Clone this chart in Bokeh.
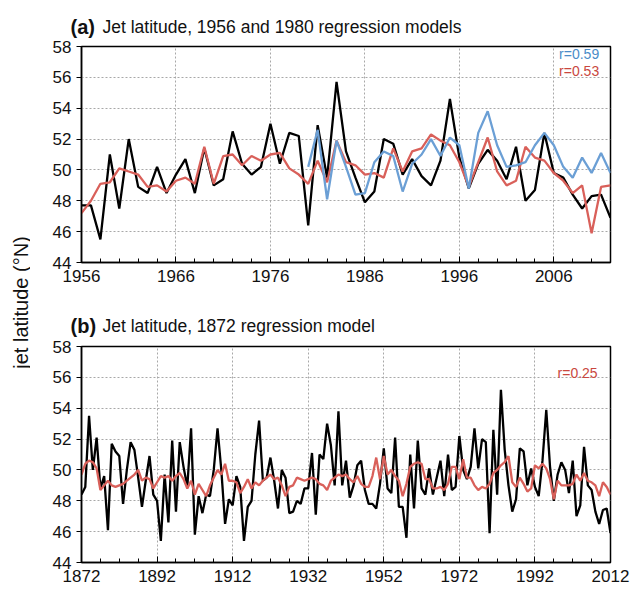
import math
from bokeh.plotting import figure
from bokeh.models import Range1d, FixedTicker, Label
from bokeh.core.properties import value
from bokeh.layouts import row, column
from bokeh.embed import file_html
from bokeh.resources import INLINE

# ---------------- data ----------------
years_a = list(range(1956, 2013))
obs_a = [47.7, 47.7, 45.5, 51.0, 47.5, 52.0, 48.9, 48.5, 50.2, 48.5,
         49.7, 50.7, 48.5, 51.4, 49.0, 49.4, 52.5, 50.4, 49.7, 50.2,
         53.0, 50.4, 52.4, 52.2, 46.4, 52.9, 49.5, 55.7, 51.2, 49.5,
         47.9, 48.6, 52.0, 51.7, 49.7, 50.7, 49.6, 49.0, 50.6, 54.6,
         50.8, 48.8, 50.4, 51.3, 50.6, 49.4, 51.5, 48.0, 48.7, 52.4,
         49.8, 49.5, 48.4, 47.5, 48.3, 48.4, 46.9]
model1956_a = [47.2, 48.0, 49.1, 49.2, 50.1, 49.9, 49.7, 48.9, 49.0, 48.6,
               49.3, 49.5, 49.1, 51.5, 49.1, 50.9, 51.0, 50.3, 50.9, 50.6,
               51.0, 51.1, 50.1, 49.7, 49.1, 50.6, 49.2, 51.9, 50.5, 50.3,
               49.7, 49.8, 49.5, 51.4, 49.9, 51.2, 51.4, 52.3, 51.9, 51.6,
               50.5, 48.9, 50.5, 52.1, 49.9, 49.0, 49.3, 51.5, 50.8, 50.6,
               49.8, 49.3, 48.5, 49.0, 45.9, 48.9, 49.0]
years_1980 = list(range(1980, 2013))
model1980_a = [50.2, 52.6, 48.1, 51.9, 50.2, 48.4, 48.5, 50.5, 51.2, 50.9,
               48.6, 50.4, 51.0, 52.0, 50.9, 52.1, 51.6, 48.8, 52.4, 53.8,
               51.6, 50.2, 50.3, 50.5, 51.6, 52.4, 51.6, 50.2, 49.5, 50.8,
               49.8, 51.1, 49.8]

years_b = list(range(1872, 2013))
obs_b = [48.4, 48.9, 53.5, 50.0, 52.1, 48.8, 49.6, 46.1, 51.7, 51.2,
         50.9, 47.8, 50.0, 51.8, 51.3, 49.5, 47.6, 49.3, 50.9, 48.4,
         48.0, 45.4, 49.7, 46.6, 51.9, 47.3, 51.8, 50.2, 48.9, 52.7,
         45.8, 48.3, 47.2, 48.4, 48.3, 50.0, 52.7, 50.0, 46.5, 48.1,
         47.7, 49.6, 48.9, 45.4, 47.6, 48.0, 51.0, 53.2, 49.3, 49.5,
         50.8, 49.3, 47.5, 50.0, 49.5, 47.2, 47.3, 48.0, 47.8, 48.8,
         48.8, 51.1, 47.1, 51.0, 50.7, 53.0, 51.6, 49.0, 53.8, 49.0,
         50.6, 48.2, 49.0, 50.3, 50.6, 48.7, 47.8, 47.8, 47.5, 49.1,
         51.4, 48.8, 48.5, 52.1, 47.6, 47.6, 45.6, 51.0, 47.5, 51.9,
         48.8, 48.4, 50.1, 48.4, 49.5, 50.6, 48.3, 51.0, 48.7, 48.9,
         52.2, 50.0, 49.4, 50.2, 52.7, 50.1, 52.0, 51.8, 45.9, 52.6,
         48.4, 55.2, 51.3, 49.0, 47.3, 48.1, 51.4, 51.2, 49.0, 50.1,
         48.9, 48.3, 50.6, 53.9, 50.2, 48.0, 49.7, 50.5, 50.0, 48.5,
         50.6, 47.0, 47.7, 51.5, 49.0, 48.7, 47.3, 46.5, 47.4, 47.5, 45.9]
model1872_b = [49.7, 50.4, 50.6, 50.5, 50.1, 48.7, 49.0, 49.3, 49.0, 48.9,
               49.0, 49.1, 49.3, 49.5, 49.7, 50.0, 49.3, 49.5, 49.4, 48.8,
               49.2, 49.6, 49.5, 49.6, 49.3, 49.6, 49.8, 49.4, 48.8, 49.3,
               48.4, 49.1, 48.7, 48.3, 49.0, 49.5, 50.0, 49.7, 50.4, 49.3,
               49.3, 49.2, 48.5, 48.9, 49.4, 48.8, 49.2, 49.0, 49.3, 49.5,
               49.7, 49.4, 49.5, 49.0, 48.3, 48.9, 49.0, 49.5, 49.4, 49.3,
               49.4, 49.5, 49.4, 49.1, 49.0, 48.7, 49.3, 49.5, 49.7, 49.6,
               49.7, 49.4, 49.2, 49.6, 49.1, 48.9, 48.9, 49.6, 50.8, 49.4,
               50.9, 49.7, 50.0, 49.6, 49.3, 48.3, 49.1, 50.2, 50.4, 50.5,
               50.4, 49.4, 49.4, 48.8, 48.8, 48.9, 48.7, 49.1, 50.2, 50.2,
               49.4, 50.7, 49.5, 49.5, 49.0, 48.7, 48.9, 48.8, 49.1, 49.8,
               50.0, 50.3, 50.5, 50.9, 49.2, 48.9, 49.5, 49.1, 48.6, 48.8,
               50.3, 50.1, 50.4, 50.1, 49.4, 48.1, 49.3, 49.0, 49.0, 49.0,
               49.1, 49.7, 49.3, 49.8, 49.3, 49.2, 49.0, 48.3, 49.2, 48.9, 48.4]

yticks = [44, 46, 48, 50, 52, 54, 56, 58]
xticks_a = [1956, 1966, 1976, 1986, 1996, 2006]
xminor_a = list(range(1956, 2013, 2))
xticks_b = [1872, 1892, 1912, 1932, 1952, 1972, 1992, 2012]
xminor_b = list(range(1872, 2013, 5))

title_tags = ["(a)", "(b)"]
title_texts = ["Jet latitude, 1956 and 1980 regression models",
               "Jet latitude, 1872 regression model"]

FONT = "Liberation Sans"
BLACK = "#000000"
RED = "#d9605a"
BLUE = "#6b9fd5"
RED_TXT = "#c9473e"
BLUE_TXT = "#4a8cc8"
W = 602


def no_align(p):
    try:
        p.frame_align = False
    except Exception:
        pass


def style(p, xticks, xminor):
    p.xaxis.ticker = FixedTicker(ticks=xticks, minor_ticks=xminor)
    p.yaxis.ticker = FixedTicker(ticks=yticks, minor_ticks=[])
    for ax in (p.xaxis[0], p.yaxis[0]):
        ax.axis_line_color = BLACK
        ax.axis_line_width = 1.5
        ax.major_tick_line_color = BLACK
        ax.minor_tick_line_color = BLACK
        ax.major_label_text_font = FONT
        ax.major_label_text_font_size = "17px"
        ax.major_label_text_color = "#111111"
    p.xaxis.major_tick_in = 6
    p.xaxis.major_tick_out = 0
    p.xaxis.minor_tick_in = 4
    p.xaxis.minor_tick_out = 0
    p.xaxis.major_label_standoff = 7
    p.yaxis.major_tick_in = 0
    p.yaxis.major_tick_out = 5
    p.yaxis.minor_tick_in = 0
    p.yaxis.minor_tick_out = 0
    p.yaxis.major_label_standoff = 5
    p.grid.grid_line_color = "#a8a8a8"
    p.grid.grid_line_dash = "2 2"
    p.grid.grid_line_width = 1
    p.outline_line_color = BLACK
    p.outline_line_width = 1.5
    p.outline_line_alpha = 1.0
    p.background_fill_color = "white"
    p.border_fill_color = "white"


def title_fig(tag, text, height, baseline_from_bottom):
    t = figure(width=W, height=height, output_backend="svg",
               toolbar_location=None, x_range=Range1d(0, W),
               y_range=Range1d(0, height), x_axis_location=None,
               y_axis_location=None, min_border_left=0, min_border_right=0,
               min_border_top=0, min_border_bottom=0)
    no_align(t)
    t.grid.visible = False
    t.outline_line_color = None
    t.text(x=[40], y=[baseline_from_bottom], text=[tag],
           text_font=value(FONT), text_font_size="20px",
           text_font_style="bold", text_baseline="alphabetic",
           text_align="left", text_color="#111111")
    t.text(x=[72], y=[baseline_from_bottom], text=[text],
           text_font=value(FONT), text_font_size="17.5px",
           text_baseline="alphabetic", text_align="left",
           text_color="#111111")
    return t


# ---------------- panel (a) ----------------
ta = title_fig(title_tags[0], title_texts[0], 38, 11.5)
pa = figure(width=W, height=267, output_backend="svg", toolbar_location=None,
            x_range=Range1d(1956, 2012), y_range=Range1d(44, 58),
            min_border_left=51, min_border_right=20, min_border_top=8,
            min_border_bottom=43)
style(pa, xticks_a, xminor_a)
pa.line(years_a, obs_a, line_color=BLACK, line_width=2.3)
pa.line(years_a, model1956_a, line_color=RED, line_width=2.3)
pa.line(years_1980, model1980_a, line_color=BLUE, line_width=2.3)
pa.add_layout(Label(x=2010.8, y=57.53, text="r=0.59", text_font=FONT,
                    text_font_size="14px", text_color=BLUE_TXT,
                    text_align="right", text_baseline="middle"))
pa.add_layout(Label(x=2010.8, y=56.4, text="r=0.53", text_font=FONT,
                    text_font_size="14px", text_color=RED_TXT,
                    text_align="right", text_baseline="middle"))

# ---------------- panel (b) ----------------
tb = title_fig(title_tags[1], title_texts[1], 32, 11.5)
pb = figure(width=W, height=252, output_backend="svg", toolbar_location=None,
            x_range=Range1d(1872, 2012), y_range=Range1d(44, 58),
            min_border_left=50, min_border_right=22, min_border_top=9,
            min_border_bottom=27)
style(pb, xticks_b, xminor_b)
pb.line(years_b, obs_b, line_color=BLACK, line_width=2.3)
pb.line(years_b, model1872_b, line_color=RED, line_width=2.3)
pb.add_layout(Label(x=2008.6, y=56.3, text="r=0.25", text_font=FONT,
                    text_font_size="14px", text_color=RED_TXT,
                    text_align="right", text_baseline="middle"))

# ---------------- shared y-axis title ----------------
pl = figure(width=30, height=589, output_backend="svg", toolbar_location=None,
            x_range=Range1d(0, 30), y_range=Range1d(0, 589),
            x_axis_location=None, y_axis_location=None,
            min_border_left=0, min_border_right=0, min_border_top=0,
            min_border_bottom=0)
no_align(pl)
pl.grid.visible = False
pl.outline_line_color = None
pl.add_layout(Label(x=20, y=287, text="jet latitude (°N)", text_font=FONT,
                    text_font_size="20px", angle=math.pi / 2,
                    text_align="center", text_baseline="middle",
                    text_color="#111111"))

layout = row(pl, column(ta, pa, tb, pb, spacing=0), spacing=0)

with open("out.html", "w") as f:
    f.write(file_html(layout, INLINE))
